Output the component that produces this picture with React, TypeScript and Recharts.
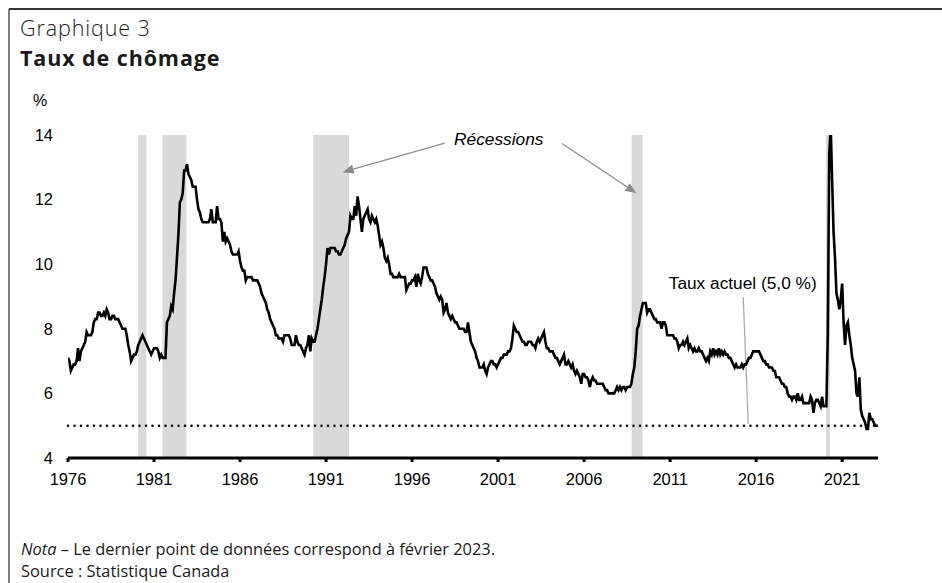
import React from 'react';
import { LineChart, Line, XAxis, YAxis, ReferenceArea, ReferenceLine, ReferenceDot } from 'recharts';

// Taux de chômage mensuel (%), janvier 1976 à février 2023
const START_YEAR = 1976;

const rates1976to1979 = [
  7.1, 7.0, 6.7, 6.8, 6.9, 6.9, 7.0, 7.4, 7.0, 7.3, 7.4, 7.5,
  7.6, 7.9, 7.8, 7.8, 7.8, 7.9, 8.2, 8.3, 8.3, 8.5, 8.5, 8.4,
  8.4, 8.5, 8.4, 8.6, 8.5, 8.3, 8.3, 8.4, 8.4, 8.3, 8.3, 8.3,
  8.2, 8.1, 8.0, 8.0, 8.0, 7.8, 7.5, 7.3, 7.0, 7.1, 7.2, 7.2,
];

const rates1980s = [
  7.3, 7.5, 7.6, 7.7, 7.8, 7.7, 7.6, 7.5, 7.4, 7.3, 7.2, 7.3,
  7.4, 7.4, 7.4, 7.3, 7.1, 7.2, 7.1, 7.1, 7.1, 8.2, 8.3, 8.4,
  8.7, 8.6, 9.1, 9.5, 10.2, 10.9, 11.9, 12.0, 12.2, 12.9, 12.9, 13.1,
  12.8, 12.7, 12.6, 12.4, 12.4, 12.4, 12.0, 11.7, 11.6, 11.4, 11.3, 11.3,
  11.3, 11.3, 11.3, 11.4, 11.7, 11.3, 11.3, 11.3, 11.8, 11.4, 11.4, 11.3,
  10.7, 11.0, 10.7, 10.8, 10.7, 10.6, 10.4, 10.3, 10.3, 10.3, 10.3, 10.4,
  10.1, 9.9, 9.8, 9.8, 9.5, 9.6, 9.6, 9.6, 9.6, 9.5, 9.5, 9.5,
  9.5, 9.4, 9.3, 9.1, 9.0, 8.9, 8.8, 8.6, 8.5, 8.3, 8.2, 8.1,
  8.0, 7.8, 7.8, 7.7, 7.7, 7.7, 7.6, 7.8, 7.8, 7.8, 7.8, 7.7,
  7.5, 7.5, 7.5, 7.8, 7.6, 7.5, 7.5, 7.4, 7.3, 7.2, 7.4, 7.5,
];

const rates1990s = [
  7.8, 7.3, 7.7, 7.6, 7.6, 7.8, 8.0, 8.3, 8.6, 8.9, 9.3, 9.6,
  10.0, 10.5, 10.3, 10.5, 10.5, 10.5, 10.5, 10.4, 10.4, 10.3, 10.3, 10.4,
  10.5, 10.6, 10.8, 10.9, 11.0, 11.5, 11.4, 11.4, 11.8, 11.5, 12.1, 11.8,
  11.4, 11.0, 11.4, 11.5, 11.6, 11.7, 11.4, 11.3, 11.5, 11.4, 11.3, 11.4,
  11.2, 10.9, 10.6, 10.7, 10.5, 10.2, 10.1, 10.2, 10.0, 9.7, 9.7, 9.6,
  9.6, 9.6, 9.6, 9.7, 9.6, 9.6, 9.6, 9.6, 9.2, 9.3, 9.4, 9.4,
  9.5, 9.5, 9.6, 9.3, 9.7, 9.5, 9.4, 9.6, 9.9, 9.9, 9.9, 9.7,
  9.6, 9.5, 9.5, 9.4, 9.3, 9.1, 9.0, 8.9, 9.0, 8.9, 8.5, 8.6,
  8.8, 8.5, 8.4, 8.3, 8.4, 8.3, 8.2, 8.2, 8.1, 8.0, 8.0, 8.0,
  8.0, 7.9, 7.9, 8.2, 7.9, 7.6, 7.5, 7.4, 7.3, 7.1, 7.0, 6.8,
];

const rates2000s = [
  6.8, 6.8, 6.9, 6.7, 6.6, 6.8, 6.9, 7.0, 7.0, 6.9, 6.9, 6.8,
  6.9, 7.0, 7.1, 7.1, 7.2, 7.2, 7.2, 7.3, 7.3, 7.4, 7.7, 8.1,
  8.0, 7.9, 7.9, 7.8, 7.7, 7.6, 7.6, 7.5, 7.5, 7.6, 7.6, 7.6,
  7.5, 7.5, 7.4, 7.6, 7.7, 7.6, 7.7, 7.8, 7.9, 7.6, 7.4, 7.4,
  7.3, 7.3, 7.3, 7.2, 7.1, 7.1, 7.0, 6.9, 7.0, 7.1, 7.2, 6.9,
  6.9, 7.0, 6.9, 6.8, 6.9, 6.7, 6.6, 6.7, 6.6, 6.5, 6.3, 6.6,
  6.6, 6.5, 6.5, 6.4, 6.2, 6.4, 6.5, 6.4, 6.4, 6.3, 6.3, 6.3,
  6.3, 6.3, 6.2, 6.1, 6.1, 6.0, 6.0, 6.0, 6.0, 6.0, 6.1, 6.2,
  6.1, 6.2, 6.1, 6.2, 6.2, 6.1, 6.2, 6.2, 6.2, 6.3, 6.6, 6.8,
  7.3, 8.0, 8.1, 8.4, 8.6, 8.8, 8.8, 8.8, 8.5, 8.6, 8.6, 8.5,
];

const rates2010s = [
  8.4, 8.3, 8.3, 8.2, 8.2, 8.2, 8.0, 8.2, 8.2, 8.1, 7.8, 7.8,
  7.8, 7.8, 7.8, 7.7, 7.7, 7.6, 7.4, 7.5, 7.5, 7.6, 7.5, 7.6,
  7.7, 7.4, 7.5, 7.4, 7.3, 7.4, 7.3, 7.3, 7.4, 7.3, 7.3, 7.2,
  7.1, 7.0, 7.1, 7.0, 7.3, 7.2, 7.4, 7.2, 7.3, 7.2, 7.4, 7.2,
  7.3, 7.2, 7.3, 7.2, 7.2, 7.1, 7.1, 7.0, 6.9, 6.8, 6.9, 6.8,
  6.8, 6.8, 6.9, 6.8, 6.9, 6.9, 7.0, 7.1, 7.1, 7.2, 7.3, 7.3,
  7.3, 7.3, 7.3, 7.2, 7.1, 7.0, 7.0, 6.9, 6.9, 6.8, 6.8, 6.8,
  6.7, 6.7, 6.5, 6.5, 6.5, 6.4, 6.3, 6.3, 6.2, 6.2, 6.0, 5.9,
  5.9, 5.8, 5.9, 5.9, 5.8, 6.0, 5.8, 5.8, 5.9, 5.7, 5.7, 5.7,
  5.7, 5.7, 5.9, 5.8, 5.4, 5.7, 5.8, 5.8, 5.7, 5.6, 5.9, 5.6,
];

const rates2020s = [
  5.6, 5.6, 7.9, 13.4, 14.3, 12.6, 11.0, 10.2, 9.1, 8.9, 8.6, 8.9,
  9.4, 8.2, 7.5, 8.1, 8.2, 7.8, 7.5, 7.1, 6.9, 6.7, 6.0, 5.9,
  6.5, 5.5, 5.3, 5.2, 5.1, 4.9, 4.9, 5.4, 5.2, 5.2, 5.1, 5.0,
  5.0, 5.0,
];

const yearTicks = [1976, 1981, 1986, 1991, 1996, 2001, 2006, 2011, 2016, 2021];
const rateTicks = [4, 6, 8, 10, 12, 14];

const recessionStarts = [1980.08, 1981.49, 1990.25, 2008.76, 2020.06];
const recessionEnds = [1980.55, 1982.88, 1992.34, 2009.4, 2020.29];

const currentRate = 5.0;

const allRates = [...rates1976to1979, ...rates1980s, ...rates1990s, ...rates2000s, ...rates2010s, ...rates2020s];
const data = allRates.map((rate, i) => ({ t: START_YEAR + i / 12, rate }));
const lastT = START_YEAR + (allRates.length - 1) / 12;

const AXIS_FONT = "'Liberation Sans', Arial, sans-serif";
const TEXT_FONT = "'Open Sans', 'Noto Sans', sans-serif";
const GREY = '#8c8c8c';

function Arrow(props: any) {
  const { x1, y1, x2, y2 } = props;
  const a = Math.atan2(y2 - y1, x2 - x1);
  const len = 11;
  const half = 4.5;
  const bx = x2 - len * Math.cos(a);
  const by = y2 - len * Math.sin(a);
  const pts = [
    [x2, y2],
    [bx + half * Math.sin(a), by - half * Math.cos(a)],
    [bx - half * Math.sin(a), by + half * Math.cos(a)],
  ]
    .map((p) => p.join(','))
    .join(' ');
  return (
    <g>
      <line x1={x1} y1={y1} x2={bx} y2={by} stroke={GREY} strokeWidth={1.2} />
      <polygon points={pts} fill={GREY} />
    </g>
  );
}

function Leader(props: any) {
  const { x1, y1, x2, y2 } = props;
  return <line x1={x1} y1={y1} x2={x2} y2={y2} stroke="#a6a6a6" strokeWidth={1.2} />;
}

function textShape(label: string, italic: boolean) {
  return (p: any) => (
    <text
      x={p.cx}
      y={p.cy}
      textAnchor="middle"
      fontFamily={AXIS_FONT}
      fontSize={17.3}
      fontStyle={italic ? 'italic' : 'normal'}
      fill="#000"
    >
      {label}
    </text>
  );
}

export default function App() {
  return (
    <div style={{ position: 'absolute', left: 0, top: 0, width: 942, height: 583, background: '#fff' }}>
      <LineChart
        width={942}
        height={583}
        data={data}
        margin={{ top: 135, right: 64, bottom: 95, left: 18 }}
      >
        {recessionStarts.map((s, i) => (
          <ReferenceArea
            key={s}
            x1={s}
            x2={recessionEnds[i]}
            y1={4}
            y2={14}
            fill="#d9d9d9"
            fillOpacity={1}
            stroke="none"
          />
        ))}
        <XAxis
          type="number"
          dataKey="t"
          domain={[START_YEAR, lastT]}
          ticks={yearTicks}
          allowDataOverflow
          axisLine={{ stroke: '#000', strokeWidth: 3 }}
          tickLine={{ stroke: '#000', strokeWidth: 3 }}
          tickSize={4}
          tickMargin={11}
          height={30}
          tick={{ fill: '#000', fontSize: 16.5, fontFamily: AXIS_FONT }}
        />
        <YAxis
          type="number"
          domain={[4, 14]}
          ticks={rateTicks}
          allowDataOverflow
          axisLine={false}
          tickLine={false}
          width={50}
          tickMargin={9}
          tick={{ fill: '#000', fontSize: 16.5, fontFamily: AXIS_FONT }}
        />
        <ReferenceLine
          y={currentRate}
          stroke="#000"
          strokeWidth={2.6}
          strokeDasharray="0 6.5"
          strokeLinecap="round"
        />
        <ReferenceLine
          segment={[{ x: 1997.9, y: 13.75 }, { x: 1991.97, y: 12.85 }]}
          shape={Arrow}
        />
        <ReferenceLine
          segment={[{ x: 2004.71, y: 13.74 }, { x: 2009.04, y: 12.2 }]}
          shape={Arrow}
        />
        <ReferenceLine
          segment={[{ x: 2015.25, y: 8.98 }, { x: 2015.54, y: 5.05 }]}
          shape={Leader}
        />
        <ReferenceDot x={2001.04} y={13.69} r={0} shape={textShape('Récessions', true)} />
        <ReferenceDot x={2015.22} y={9.23} r={0} shape={textShape('Taux actuel (5,0 %)', false)} />
        <Line
          type="linear"
          dataKey="rate"
          stroke="#000"
          strokeWidth={2.6}
          dot={false}
          isAnimationActive={false}
        />
      </LineChart>
      <svg
        width={942}
        height={583}
        style={{ position: 'absolute', left: 0, top: 0, pointerEvents: 'none' }}
      >
        <line x1={9} y1={9} x2={942} y2={9} stroke="#333" strokeWidth={2} />
        <line x1={9} y1={9} x2={9} y2={583} stroke="#555" strokeWidth={1.5} />
        <text x={20} y={36} fontFamily={TEXT_FONT} fontSize={21.5} fontWeight={300} letterSpacing={0.9} fill="#1a1a1a">
          Graphique 3
        </text>
        <text x={20} y={66} fontFamily={TEXT_FONT} fontSize={21.5} fontWeight={700} letterSpacing={0.9} fill="#1a1a1a">
          Taux de chômage
        </text>
        <text x={33} y={106} fontFamily={AXIS_FONT} fontSize={16} fill="#000">
          %
        </text>
        <text x={21} y={555} fontFamily={TEXT_FONT} fontSize={16.4} fill="#1a1a1a">
          <tspan fontStyle="italic">Nota</tspan> – Le dernier point de données correspond à février 2023.
        </text>
        <text x={21} y={577} fontFamily={TEXT_FONT} fontSize={16.4} fill="#1a1a1a">
          Source : Statistique Canada
        </text>
      </svg>
    </div>
  );
}
